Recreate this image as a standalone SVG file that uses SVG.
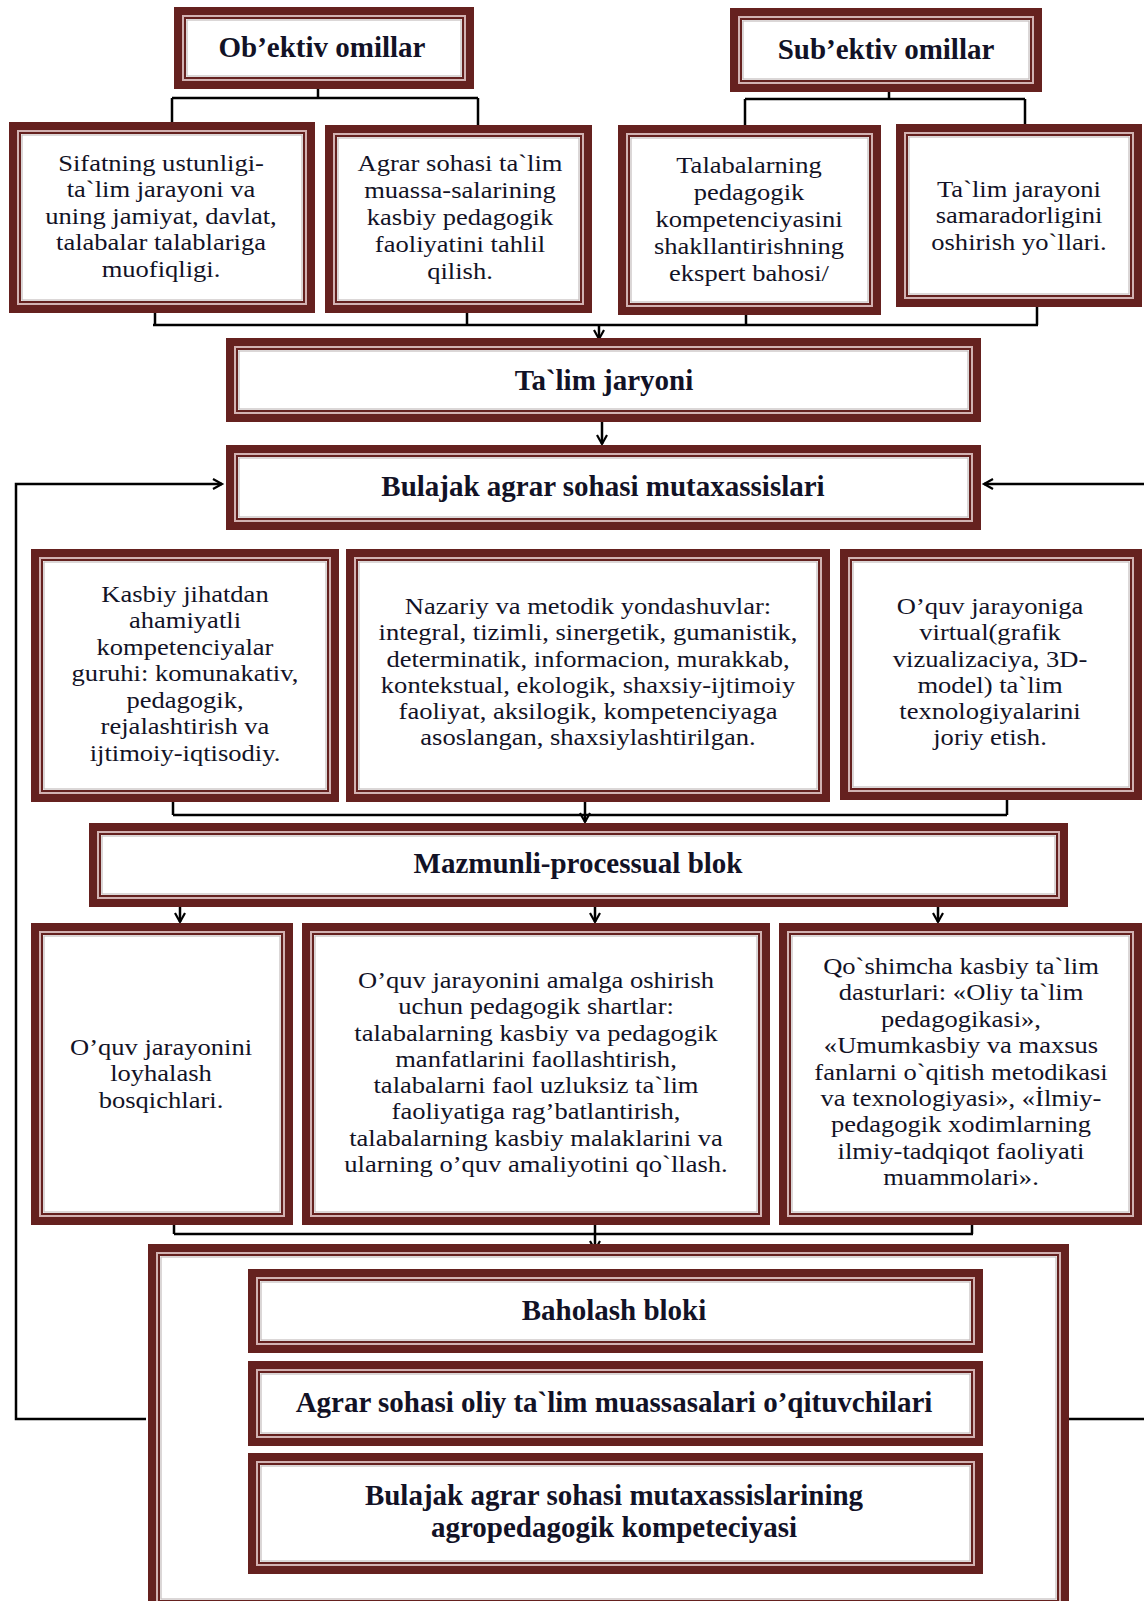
<svg xmlns="http://www.w3.org/2000/svg" width="1144" height="1601" viewBox="0 0 1144 1601">
<style>
.b1{fill:#fff;stroke:#65211f;stroke-width:8}
.b2{fill:none;stroke:#d2b2b2;stroke-width:2}
.b3{fill:none;stroke:#65211f;stroke-width:2}
.b4{fill:none;stroke:#c4bcbc;stroke-width:1.2}
text{font-family:"Liberation Serif","Times New Roman",serif;fill:#121226;text-anchor:middle}
.t{font-size:23.5px}
.h{font-size:29px;font-weight:bold}
.c{fill:none;stroke:#000;stroke-width:2.5}
</style>
<defs>
<marker id="ar" markerUnits="userSpaceOnUse" markerWidth="14" markerHeight="14" refX="10" refY="6" orient="auto">
<path d="M1,1 L10,6 L1,11" fill="none" stroke="#000" stroke-width="2.2"/>
</marker>
</defs>

<g id="connectors">
<path class="c" d="M318 89V98M172 98H478M172 98V122M478 98V125"/>
<path class="c" d="M889 92V99M745 99H1025M745 99V125M1025 99V124"/>
<path class="c" d="M155 313V325M467 313V325M746 315V325M1037 307V325M153 325H1038"/>
<path class="c" d="M599 325V339" marker-end="url(#ar)"/>
<path class="c" d="M602 422V444" marker-end="url(#ar)"/>
<path class="c" d="M146 1419H16V484H222" marker-end="url(#ar)"/>
<path class="c" d="M1067 1419H1150V484H984" marker-end="url(#ar)"/>
<path class="c" d="M173 802V815M1007 800V815M173 815H1007"/>
<path class="c" d="M585 802V822" marker-end="url(#ar)"/>
<path class="c" d="M180 907V922" marker-end="url(#ar)"/>
<path class="c" d="M595 907V922" marker-end="url(#ar)"/>
<path class="c" d="M938 907V922" marker-end="url(#ar)"/>
<path class="c" d="M174 1225V1234M972 1225V1234M174 1234H973"/>
<path class="c" d="M595 1225V1250" marker-end="url(#ar)"/>
</g>

<g id="n-obektiv">
<rect class="b1" x="178" y="11" width="292" height="74"/><rect class="b2" x="183" y="16" width="282" height="64"/><rect class="b3" x="185" y="18" width="278" height="60"/><rect class="b4" x="187" y="20" width="274" height="56"/>
<text class="h" x="322" y="57">Ob’ektiv omillar</text>
</g>

<g id="n-subektiv">
<rect class="b1" x="734" y="12" width="304" height="76"/><rect class="b2" x="739" y="17" width="294" height="66"/><rect class="b3" x="741" y="19" width="290" height="62"/><rect class="b4" x="743" y="21" width="286" height="58"/>
<text class="h" x="886" y="59">Sub’ektiv omillar</text>
</g>

<g id="n-sifat">
<rect class="b1" x="13" y="126" width="298" height="183"/><rect class="b2" x="18" y="131" width="288" height="173"/><rect class="b3" x="20" y="133" width="284" height="169"/><rect class="b4" x="22" y="135" width="280" height="165"/>
<text class="t" transform="translate(161 0) scale(1.13 1)"><tspan x="0" y="171">Sifatning ustunligi-</tspan><tspan x="0" y="197.5">ta`lim jarayoni va</tspan><tspan x="0" y="224">uning jamiyat, davlat,</tspan><tspan x="0" y="250.5">talabalar talablariga</tspan><tspan x="0" y="277">muofiqligi.</tspan></text>
</g>

<g id="n-agrar-talim">
<rect class="b1" x="329" y="129" width="259" height="180"/><rect class="b2" x="334" y="134" width="249" height="170"/><rect class="b3" x="336" y="136" width="245" height="166"/><rect class="b4" x="338" y="138" width="241" height="162"/>
<text class="t" transform="translate(460 0) scale(1.13 1)"><tspan x="0" y="171">Agrar sohasi ta`lim</tspan><tspan x="0" y="198">muassa-salarining</tspan><tspan x="0" y="225">kasbiy pedagogik</tspan><tspan x="0" y="252">faoliyatini tahlil</tspan><tspan x="0" y="279">qilish.</tspan></text>
</g>

<g id="n-talabalar">
<rect class="b1" x="622" y="129" width="255" height="182"/><rect class="b2" x="627" y="134" width="245" height="172"/><rect class="b3" x="629" y="136" width="241" height="168"/><rect class="b4" x="631" y="138" width="237" height="164"/>
<text class="t" transform="translate(749 0) scale(1.13 1)"><tspan x="0" y="173">Talabalarning</tspan><tspan x="0" y="200">pedagogik</tspan><tspan x="0" y="227">kompetenciyasini</tspan><tspan x="0" y="254">shakllantirishning</tspan><tspan x="0" y="281">ekspert bahosi/</tspan></text>
</g>

<g id="n-samaradorlik">
<rect class="b1" x="900" y="128" width="238" height="175"/><rect class="b2" x="905" y="133" width="228" height="165"/><rect class="b3" x="907" y="135" width="224" height="161"/><rect class="b4" x="909" y="137" width="220" height="157"/>
<text class="t" transform="translate(1019 0) scale(1.13 1)"><tspan x="0" y="197">Ta`lim jarayoni</tspan><tspan x="0" y="223.5">samaradorligini</tspan><tspan x="0" y="250">oshirish yo`llari.</tspan></text>
</g>

<g id="n-talim-jaryoni">
<rect class="b1" x="230" y="342" width="747" height="76"/><rect class="b2" x="235" y="347" width="737" height="66"/><rect class="b3" x="237" y="349" width="733" height="62"/><rect class="b4" x="239" y="351" width="729" height="58"/>
<text class="h" x="604" y="390">Ta`lim jaryoni</text>
</g>

<g id="n-bulajak">
<rect class="b1" x="230" y="449" width="747" height="77"/><rect class="b2" x="235" y="454" width="737" height="67"/><rect class="b3" x="237" y="456" width="733" height="63"/><rect class="b4" x="239" y="458" width="729" height="59"/>
<text class="h" x="603" y="496">Bulajak agrar sohasi mutaxassislari</text>
</g>

<g id="n-kasbiy">
<rect class="b1" x="35" y="553" width="300" height="245"/><rect class="b2" x="40" y="558" width="290" height="235"/><rect class="b3" x="42" y="560" width="286" height="231"/><rect class="b4" x="44" y="562" width="282" height="227"/>
<text class="t" transform="translate(185 0) scale(1.13 1)"><tspan x="0" y="602">Kasbiy jihatdan</tspan><tspan x="0" y="628.5">ahamiyatli</tspan><tspan x="0" y="655">kompetenciyalar</tspan><tspan x="0" y="681.5">guruhi: komunakativ,</tspan><tspan x="0" y="708">pedagogik,</tspan><tspan x="0" y="734.5">rejalashtirish va</tspan><tspan x="0" y="761">ijtimoiy-iqtisodiy.</tspan></text>
</g>

<g id="n-nazariy">
<rect class="b1" x="350" y="553" width="476" height="245"/><rect class="b2" x="355" y="558" width="466" height="235"/><rect class="b3" x="357" y="560" width="462" height="231"/><rect class="b4" x="359" y="562" width="458" height="227"/>
<text class="t" transform="translate(588 0) scale(1.13 1)"><tspan x="0" y="614">Nazariy va metodik yondashuvlar:</tspan><tspan x="0" y="640.3">integral, tizimli, sinergetik, gumanistik,</tspan><tspan x="0" y="666.6">determinatik, informacion, murakkab,</tspan><tspan x="0" y="692.9">kontekstual, ekologik, shaxsiy-ijtimoiy</tspan><tspan x="0" y="719.2">faoliyat, aksilogik, kompetenciyaga</tspan><tspan x="0" y="745.5">asoslangan, shaxsiylashtirilgan.</tspan></text>
</g>

<g id="n-virtual">
<rect class="b1" x="844" y="553" width="294" height="243"/><rect class="b2" x="849" y="558" width="284" height="233"/><rect class="b3" x="851" y="560" width="280" height="229"/><rect class="b4" x="853" y="562" width="276" height="225"/>
<text class="t" transform="translate(990 0) scale(1.13 1)"><tspan x="0" y="614">O’quv jarayoniga</tspan><tspan x="0" y="640.3">virtual(grafik</tspan><tspan x="0" y="666.6">vizualizaciya, 3D-</tspan><tspan x="0" y="692.9">model) ta`lim</tspan><tspan x="0" y="719.2">texnologiyalarini</tspan><tspan x="0" y="745.5">joriy etish.</tspan></text>
</g>

<g id="n-mazmunli">
<rect class="b1" x="93" y="827" width="971" height="76"/><rect class="b2" x="98" y="832" width="961" height="66"/><rect class="b3" x="100" y="834" width="957" height="62"/><rect class="b4" x="102" y="836" width="953" height="58"/>
<text class="h" x="578" y="873">Mazmunli-processual blok</text>
</g>

<g id="n-loyihalash">
<rect class="b1" x="35" y="927" width="254" height="294"/><rect class="b2" x="40" y="932" width="244" height="284"/><rect class="b3" x="42" y="934" width="240" height="280"/><rect class="b4" x="44" y="936" width="236" height="276"/>
<text class="t" transform="translate(161 0) scale(1.13 1)"><tspan x="0" y="1055">O’quv jarayonini</tspan><tspan x="0" y="1081.5">loyhalash</tspan><tspan x="0" y="1108">bosqichlari.</tspan></text>
</g>

<g id="n-shartlar">
<rect class="b1" x="306" y="927" width="460" height="294"/><rect class="b2" x="311" y="932" width="450" height="284"/><rect class="b3" x="313" y="934" width="446" height="280"/><rect class="b4" x="315" y="936" width="442" height="276"/>
<text class="t" transform="translate(536 0) scale(1.13 1)"><tspan x="0" y="988">O’quv jarayonini amalga oshirish</tspan><tspan x="0" y="1014.3">uchun pedagogik shartlar:</tspan><tspan x="0" y="1040.6">talabalarning kasbiy va pedagogik</tspan><tspan x="0" y="1066.9">manfatlarini faollashtirish,</tspan><tspan x="0" y="1093.2">talabalarni faol uzluksiz ta`lim</tspan><tspan x="0" y="1119.5">faoliyatiga rag’batlantirish,</tspan><tspan x="0" y="1145.8">talabalarning kasbiy malaklarini va</tspan><tspan x="0" y="1172.1">ularning o’quv amaliyotini qo`llash.</tspan></text>
</g>

<g id="n-qoshimcha">
<rect class="b1" x="783" y="927" width="355" height="294"/><rect class="b2" x="788" y="932" width="345" height="284"/><rect class="b3" x="790" y="934" width="341" height="280"/><rect class="b4" x="792" y="936" width="337" height="276"/>
<text class="t" transform="translate(961 0) scale(1.13 1)"><tspan x="0" y="974">Qo`shimcha kasbiy ta`lim</tspan><tspan x="0" y="1000.4">dasturlari: «Oliy ta`lim</tspan><tspan x="0" y="1026.8">pedagogikasi»,</tspan><tspan x="0" y="1053.2">«Umumkasbiy va maxsus</tspan><tspan x="0" y="1079.6">fanlarni o`qitish metodikasi</tspan><tspan x="0" y="1106">va texnologiyasi», «İlmiy-</tspan><tspan x="0" y="1132.4">pedagogik xodimlarning</tspan><tspan x="0" y="1158.8">ilmiy-tadqiqot faoliyati</tspan><tspan x="0" y="1185.2">muammolari».</tspan></text>
</g>

<g id="n-baholash-group">
<rect class="b1" x="152" y="1248" width="913" height="360"/><rect class="b2" x="157" y="1253" width="903" height="350"/><rect class="b3" x="159" y="1255" width="899" height="346"/><rect class="b4" x="161" y="1257" width="895" height="342"/>
</g>

<g id="n-baholash">
<rect class="b1" x="252" y="1273" width="727" height="76"/><rect class="b2" x="257" y="1278" width="717" height="66"/><rect class="b3" x="259" y="1280" width="713" height="62"/><rect class="b4" x="261" y="1282" width="709" height="58"/>
<text class="h" x="614" y="1320">Baholash bloki</text>
</g>

<g id="n-oqituvchilar">
<rect class="b1" x="252" y="1365" width="727" height="77"/><rect class="b2" x="257" y="1370" width="717" height="67"/><rect class="b3" x="259" y="1372" width="713" height="63"/><rect class="b4" x="261" y="1374" width="709" height="59"/>
<text class="h" x="614" y="1412">Agrar sohasi oliy ta`lim muassasalari o’qituvchilari</text>
</g>

<g id="n-kompetenciya">
<rect class="b1" x="252" y="1457" width="727" height="113"/><rect class="b2" x="257" y="1462" width="717" height="103"/><rect class="b3" x="259" y="1464" width="713" height="99"/><rect class="b4" x="261" y="1466" width="709" height="95"/>
<text class="h" x="614"><tspan x="614" y="1505">Bulajak agrar sohasi mutaxassislarining</tspan><tspan x="614" y="1537">agropedagogik kompeteciyasi</tspan></text>
</g>
</svg>
